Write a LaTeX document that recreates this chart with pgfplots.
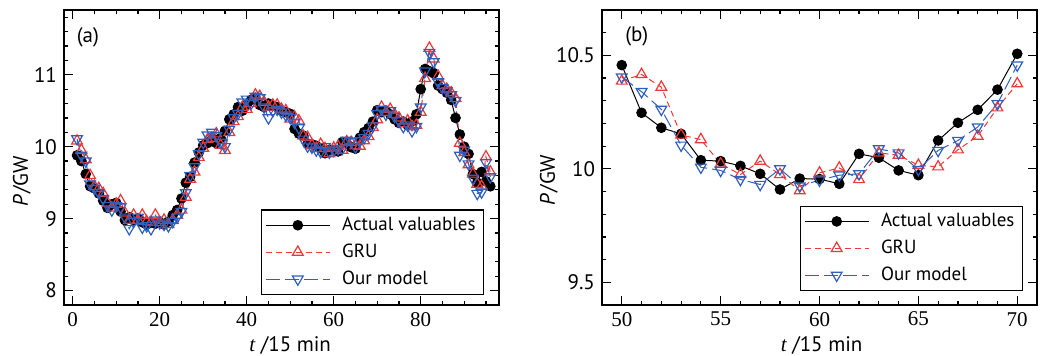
\documentclass[border=0pt]{standalone}
\usepackage{pgfplots}
\usepackage{pgfplotstable}
\pgfplotsset{compat=1.18}
\usepackage{fontspec}
\setmainfont{PT Sans}
\newfontfamily\serifnum{Liberation Serif}
\definecolor{gruR}{RGB}{238,55,55}
\definecolor{ourB}{RGB}{45,95,190}

\pgfplotstableread{
t a g o
1 9.88 10.08 10.11
2 9.80 9.95 9.88
3 9.62 9.82 9.80
4 9.45 9.60 9.48
5 9.42 9.45 9.42
6 9.35 9.42 9.36
7 9.25 9.35 9.28
8 9.15 9.22 9.18
9 9.20 9.15 9.12
10 9.22 9.20 9.18
11 9.10 9.25 9.16
12 8.98 9.08 9.02
13 9.02 8.98 8.86
14 8.98 9.05 8.96
15 9.00 8.98 9.02
16 8.95 9.05 8.88
17 8.92 8.96 8.90
18 8.95 8.95 8.86
19 8.93 9.05 8.98
20 8.95 8.95 8.94
21 8.92 8.98 8.92
22 8.96 8.92 8.90
23 9.05 8.98 8.96
24 9.12 9.05 9.02
25 9.28 9.12 9.10
26 9.50 9.30 9.36
27 9.58 9.55 9.60
28 9.78 9.65 9.72
29 9.92 9.85 9.90
30 10.02 9.98 10.06
31 10.05 10.10 10.16
32 10.10 10.12 10.20
33 10.05 10.18 10.15
34 10.12 10.02 10.06
35 10.22 9.95 10.00
36 10.38 10.20 10.24
37 10.45 10.35 10.40
38 10.55 10.42 10.46
39 10.50 10.55 10.62
40 10.58 10.52 10.66
41 10.65 10.60 10.60
42 10.68 10.72 10.70
43 10.58 10.70 10.68
44 10.55 10.62 10.55
45 10.60 10.55 10.40
46 10.57 10.58 10.50
47 10.55 10.58 10.52
48 10.50 10.52 10.48
49 10.48 10.50 10.44
50 10.457 10.387 10.404
51 10.247 10.416 10.340
52 10.181 10.360 10.262
53 10.154 10.149 10.104
54 10.038 10.129 10.007
55 10.034 10.022 9.993
56 10.013 9.975 9.953
57 9.978 10.034 9.931
58 9.909 9.975 10.000
59 9.957 9.904 9.924
60 9.955 9.982 9.950
61 9.934 10.004 9.972
62 10.066 9.953 9.978
63 10.049 10.070 10.088
64 9.993 10.060 10.070
65 9.972 10.016 9.997
66 10.125 10.009 10.081
67 10.203 10.084 10.125
68 10.260 10.144 10.184
69 10.349 10.269 10.287
70 10.507 10.375 10.457
71 10.48 10.55 10.52
72 10.50 10.48 10.45
73 10.45 10.52 10.50
74 10.38 10.45 10.42
75 10.33 10.40 10.36
76 10.35 10.32 10.28
77 10.30 10.36 10.30
78 10.35 10.28 10.22
79 10.45 10.30 10.28
80 10.80 10.48 10.55
81 11.08 10.95 11.05
82 11.05 11.37 11.31
83 11.02 11.22 11.18
84 10.85 10.98 10.90
85 10.80 10.85 10.82
86 10.75 10.80 10.78
87 10.65 10.75 10.72
88 10.40 10.67 10.64
89 10.17 10.05 9.88
90 10.00 9.92 9.95
91 9.90 9.75 9.76
92 9.62 9.62 9.56
93 9.50 9.48 9.35
94 9.65 9.45 9.37
95 9.52 9.86 9.78
96 9.45 9.65 9.58
}\loadtable

\pgfplotsset{
  myax/.style={
    scale only axis, width=217.5pt, height=147.5pt,
    axis line style={line width=0.9pt},
    every tick/.style={black, line width=0.6pt},
    major tick length=4.5pt, minor tick length=2.2pt,
    tick align=inside,
    /pgf/number format/assume math mode=true,
    tick label style={font=\fontsize{10.5}{12}\selectfont},
    x tick label style={font=\serifnum\fontsize{10.5}{12}\selectfont},
    xlabel={{\serifnum\itshape t} /15 min},
    ylabel={\textit{P}\kern0.5pt/GW},
    label style={font=\fontsize{10.5}{12}\selectfont},
    legend cell align=left,
    legend style={font=\fontsize{9.5}{11}\selectfont, draw=black, line width=0.6pt,
      row sep=1.2pt, column sep=4pt, inner xsep=2pt, inner ysep=1.5pt, anchor=south east},
    legend image code/.code={%
      \draw[mark repeat=2,mark phase=2,#1] plot coordinates {(0cm,0cm) (0.56cm,0cm) (1.12cm,0cm)};},
  },
  actual/.style={black, line width=0.5pt, mark=*, mark size=2.4pt, mark options={solid, fill=black}},
  gru/.style={gruR, line width=0.5pt, dash pattern=on 3pt off 2pt, mark=triangle, mark size=3.1pt, mark options={solid, line width=0.6pt}},
  our/.style={ourB, line width=0.5pt, dash pattern=on 7pt off 2.5pt, mark=triangle, mark size=3.1pt, mark options={solid, line width=0.6pt, rotate=180}},
}

\begin{document}
\begin{tikzpicture}
\path[use as bounding box] (-32pt,-25.5pt) rectangle (489pt,152.5pt);
\begin{axis}[myax, at={(0pt,0pt)}, anchor=south west,
  xmin=-2, xmax=98, ymin=7.8, ymax=11.9,
  xtick={0,20,...,80}, minor xtick={5,10,...,95},
  ytick={8,9,10,11}, minor ytick={7.8,8.2,8.4,...,11.8},
  ylabel style={at={(axis description cs:-0.097,0.42)}, anchor=center},
  xlabel style={at={(axis description cs:0.52,-0.136)}, anchor=center},
  legend style={at={(axis description cs:0.966,0.034)}}]
\addplot[actual] table[x=t,y=a] {\loadtable};
\addplot[gru] table[x=t,y=g] {\loadtable};
\addplot[our] table[x=t,y=o] {\loadtable};
\legend{Actual valuables, GRU, Our model}
\node at (axis description cs:0.055,0.908) {\fontsize{10.5}{12}\selectfont(a)};
\end{axis}
\begin{axis}[myax, at={(269pt,0pt)}, anchor=south west,
  xmin=49, xmax=71, ymin=9.4, ymax=10.7,
  xtick={50,55,...,70}, minor xtick={49,...,71},
  ytick={9.5,10,10.5}, minor ytick={9.4,9.5,...,10.7},
  ylabel style={at={(axis description cs:-0.122,0.424)}, anchor=center},
  xlabel style={at={(axis description cs:0.505,-0.136)}, anchor=center},
  legend style={at={(axis description cs:0.968,0.047)}}]
\addplot[actual, restrict x to domain=50:70] table[x=t,y=a] {\loadtable};
\addplot[gru, restrict x to domain=50:70] table[x=t,y=g] {\loadtable};
\addplot[our, restrict x to domain=50:70] table[x=t,y=o] {\loadtable};
\legend{Actual valuables, GRU, Our model}
\node at (axis description cs:0.08,0.91) {\fontsize{10.5}{12}\selectfont(b)};
\end{axis}
\end{tikzpicture}
\end{document}
